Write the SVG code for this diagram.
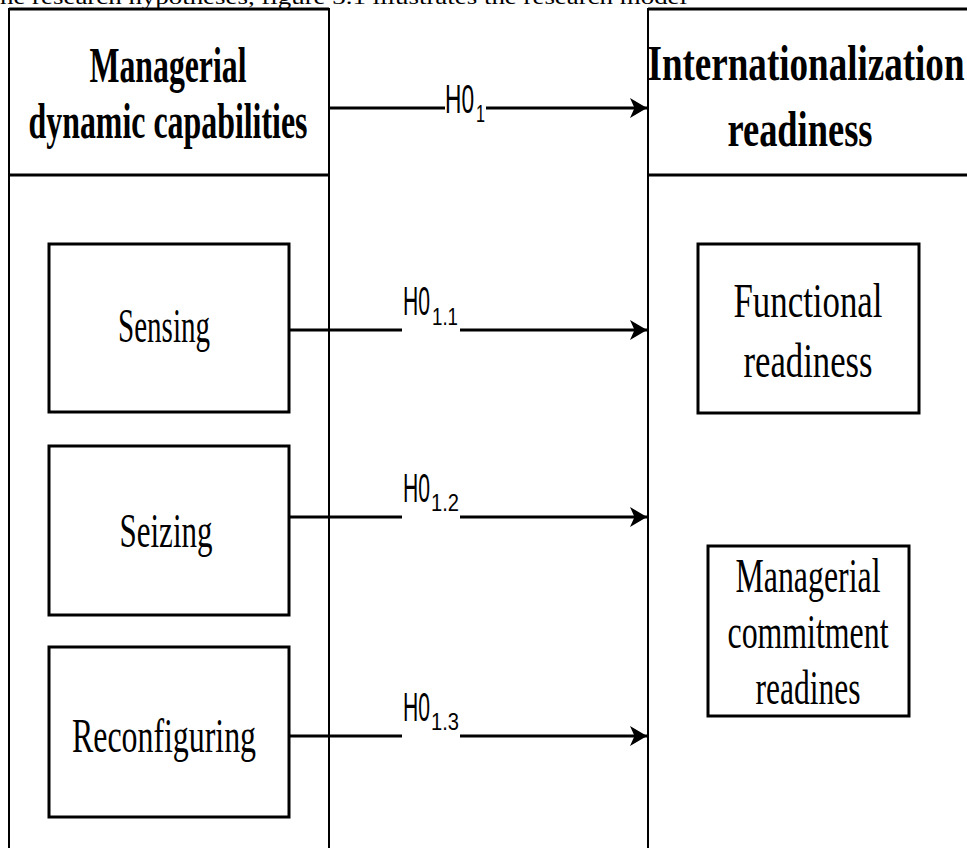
<svg xmlns="http://www.w3.org/2000/svg" width="967" height="848" viewBox="0 0 967 848">
<style>
.bg{fill:#ffffff}
.outer{fill:none;stroke:#000;stroke-width:2}
.div{fill:none;stroke:#000;stroke-width:3}
.box{fill:#fff;stroke:#000;stroke-width:3}
.hdr{font-family:"Liberation Serif","Times New Roman",serif;font-weight:bold;font-size:50px;fill:#000}
.lbl{font-family:"Liberation Serif","Times New Roman",serif;font-size:48px;fill:#000}
.top{font-family:"Liberation Serif","Times New Roman",serif;font-size:22px;fill:#000}
.conn{fill:none;stroke:#000;stroke-width:2.8}
.h{font-family:"Liberation Sans",Arial,sans-serif;font-size:40px;fill:#000}
.hs{font-family:"Liberation Sans",Arial,sans-serif;font-size:24px;fill:#000}
</style>
<defs>
<marker id="arrow" markerUnits="userSpaceOnUse" markerWidth="20" markerHeight="22" refX="17" refY="10" orient="auto">
<path d="M0,0 L17,10 L0,20 L4.5,10 Z" fill="#000"/>
</marker>
</defs>
<rect class="bg" x="0" y="0" width="967" height="848"/>
<text class="top" x="0" y="4" textLength="687" lengthAdjust="spacingAndGlyphs">he research hypotheses, figure 3.1 illustrates the research model</text>

<g id="managerial-dynamic-capabilities">
<rect class="outer" x="9" y="9" width="320" height="850"/>
<line class="div" x1="9" y1="9" x2="329" y2="9"/>
<line class="div" x1="9" y1="175" x2="329" y2="175"/>
<text class="hdr" x="168" y="82" text-anchor="middle" textLength="157" lengthAdjust="spacingAndGlyphs">Managerial</text>
<text class="hdr" x="168" y="138" text-anchor="middle" textLength="279" lengthAdjust="spacingAndGlyphs">dynamic capabilities</text>
</g>

<g id="internationalization-readiness">
<rect class="outer" x="648" y="9" width="330" height="850"/>
<line class="div" x1="648" y1="9" x2="967" y2="9"/>
<line class="div" x1="648" y1="175" x2="967" y2="175"/>
<text class="hdr" x="806" y="80" text-anchor="middle" textLength="317" lengthAdjust="spacingAndGlyphs">Internationalization</text>
<text class="hdr" x="800" y="146" text-anchor="middle" textLength="145" lengthAdjust="spacingAndGlyphs">readiness</text>
</g>

<g id="sensing">
<rect class="box" x="49" y="244" width="240" height="168"/>
<text class="lbl" x="164" y="342" text-anchor="middle" textLength="92" lengthAdjust="spacingAndGlyphs">Sensing</text>
</g>

<g id="seizing">
<rect class="box" x="49" y="446" width="240" height="169"/>
<text class="lbl" x="166" y="547" text-anchor="middle" textLength="93" lengthAdjust="spacingAndGlyphs">Seizing</text>
</g>

<g id="reconfiguring">
<rect class="box" x="49" y="647" width="240" height="170"/>
<text class="lbl" x="164" y="752" text-anchor="middle" textLength="184" lengthAdjust="spacingAndGlyphs">Reconfiguring</text>
</g>

<g id="functional-readiness">
<rect class="box" x="698" y="244" width="221" height="169"/>
<text class="lbl" x="808" y="317" text-anchor="middle" textLength="149" lengthAdjust="spacingAndGlyphs">Functional</text>
<text class="lbl" x="808" y="377" text-anchor="middle" textLength="129" lengthAdjust="spacingAndGlyphs">readiness</text>
</g>

<g id="managerial-commitment-readiness">
<rect class="box" x="708" y="546" width="201" height="170"/>
<text class="lbl" x="808" y="592" text-anchor="middle" textLength="145" lengthAdjust="spacingAndGlyphs">Managerial</text>
<text class="lbl" x="808" y="648" text-anchor="middle" textLength="161" lengthAdjust="spacingAndGlyphs">commitment</text>
<text class="lbl" x="808" y="704" text-anchor="middle" textLength="105" lengthAdjust="spacingAndGlyphs">readines</text>
</g>

<g id="connectors">
<line class="conn" x1="329" y1="108" x2="445" y2="108"/>
<line class="conn" x1="486" y1="108" x2="647" y2="108" marker-end="url(#arrow)"/>
<text class="h" x="445" y="113" textLength="29" lengthAdjust="spacingAndGlyphs">H0</text>
<text class="hs" x="476" y="122" textLength="9" lengthAdjust="spacingAndGlyphs">1</text>

<line class="conn" x1="289" y1="330" x2="402" y2="330"/>
<line class="conn" x1="460" y1="330" x2="647" y2="330" marker-end="url(#arrow)"/>
<text class="h" x="403" y="315" textLength="27" lengthAdjust="spacingAndGlyphs">H0</text>
<text class="hs" x="432" y="325" textLength="26" lengthAdjust="spacingAndGlyphs">1.1</text>

<line class="conn" x1="289" y1="517" x2="402" y2="517"/>
<line class="conn" x1="460" y1="517" x2="647" y2="517" marker-end="url(#arrow)"/>
<text class="h" x="403" y="502" textLength="27" lengthAdjust="spacingAndGlyphs">H0</text>
<text class="hs" x="431" y="511" textLength="28" lengthAdjust="spacingAndGlyphs">1.2</text>

<line class="conn" x1="289" y1="736" x2="402" y2="736"/>
<line class="conn" x1="460" y1="736" x2="647" y2="736" marker-end="url(#arrow)"/>
<text class="h" x="403" y="721" textLength="27" lengthAdjust="spacingAndGlyphs">H0</text>
<text class="hs" x="431" y="730" textLength="28" lengthAdjust="spacingAndGlyphs">1.3</text>
</g>
</svg>
